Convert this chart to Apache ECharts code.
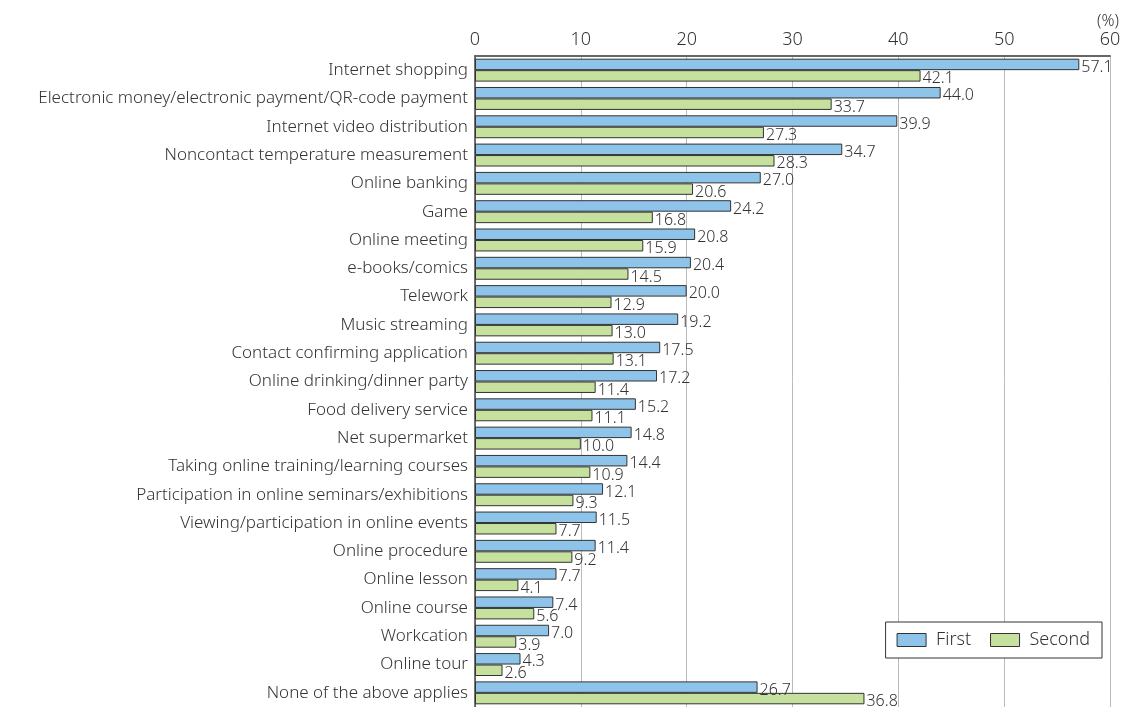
<!DOCTYPE html>
<html>
<head>
<meta charset="utf-8">
<script src="https://cdn.jsdelivr.net/npm/echarts@6/dist/echarts.min.js"></script>
<style>
  html, body { margin: 0; padding: 0; background: #fff; }
  #chart { width: 1128px; height: 707px; }
</style>
</head>
<body>
<div id="chart"></div>
<script>
// Usage of digital services (%)
const categories = [
  'Internet shopping',
  'Electronic money/electronic payment/QR-code payment',
  'Internet video distribution',
  'Noncontact temperature measurement',
  'Online banking',
  'Game',
  'Online meeting',
  'e-books/comics',
  'Telework',
  'Music streaming',
  'Contact confirming application',
  'Online drinking/dinner party',
  'Food delivery service',
  'Net supermarket',
  'Taking online training/learning courses',
  'Participation in online seminars/exhibitions',
  'Viewing/participation in online events',
  'Online procedure',
  'Online lesson',
  'Online course',
  'Workcation',
  'Online tour',
  'None of the above applies'
];
const firstValues = [57.1, 44.0, 39.9, 34.7, 27.0, 24.2, 20.8, 20.4, 20.0, 19.2, 17.5, 17.2, 15.2, 14.8, 14.4, 12.1, 11.5, 11.4, 7.7, 7.4, 7.0, 4.3, 26.7];
const secondValues = [42.1, 33.7, 27.3, 28.3, 20.6, 16.8, 15.9, 14.5, 12.9, 13.0, 13.1, 11.4, 11.1, 10.0, 10.9, 9.3, 7.7, 9.2, 4.1, 5.6, 3.9, 2.6, 36.8];
const seriesNames = ['First', 'Second'];
const axisTicks = { min: 0, max: 60, interval: 10 };
const unitLabel = '(%)';

const FONT = '"Noto Sans", sans-serif';
const WEIGHT = 300;
const TEXT = '#333';

const chart = echarts.init(document.getElementById('chart'), null, { renderer: 'canvas' });

function barSeries(name, data, color) {
  return {
    name: name,
    type: 'bar',
    data: data,
    barGap: '0%',
    barCategoryGap: '19%',
    itemStyle: { color: color, borderColor: '#333', borderWidth: 1 },
    label: {
      show: true,
      position: 'right',
      distance: 2,
      offset: [0, 3],
      color: TEXT,
      fontFamily: FONT,
      fontWeight: WEIGHT,
      fontSize: 16,
      formatter: p => p.value.toFixed(1)
    },
    z: 3
  };
}

chart.setOption({
  animation: false,
  textStyle: { fontFamily: FONT, fontWeight: WEIGHT },
  grid: { left: 475, right: 18, top: 56, height: 653, containLabel: false },
  legend: {
    data: seriesNames,
    right: 26,
    top: 622,
    orient: 'horizontal',
    icon: 'rect',
    borderColor: '#333',
    borderWidth: 1,
    borderRadius: 0,
    padding: [9, 12, 9, 11],
    itemGap: 19,
    itemWidth: 29,
    itemHeight: 13,
    backgroundColor: '#fff',
    textStyle: { color: TEXT, fontSize: 18, fontFamily: FONT, fontWeight: WEIGHT, padding: [0, 0, 0, 5] },
    itemStyle: { borderColor: '#333', borderWidth: 1 }
  },
  graphic: [{
    type: 'text',
    right: 9,
    top: 13,
    style: { text: unitLabel, fill: TEXT, font: WEIGHT + ' 16px ' + FONT }
  }],
  xAxis: {
    type: 'value',
    position: 'top',
    min: axisTicks.min,
    max: axisTicks.max,
    interval: axisTicks.interval,
    axisLine: { show: true, lineStyle: { color: '#666', width: 2 } },
    axisTick: { show: false },
    axisLabel: { color: TEXT, fontSize: 18, fontFamily: FONT, fontWeight: WEIGHT, margin: 7 },
    splitLine: { show: true, lineStyle: { color: '#bbb', width: 1 } }
  },
  yAxis: {
    type: 'category',
    data: categories,
    inverse: true,
    axisLine: { show: true, lineStyle: { color: '#444', width: 1.5 } },
    axisTick: { show: false },
    axisLabel: { color: TEXT, fontSize: 17, fontFamily: FONT, fontWeight: WEIGHT, margin: 7 }
  },
  series: [
    barSeries(seriesNames[0], firstValues, '#8ec4ea'),
    barSeries(seriesNames[1], secondValues, '#c6e09e')
  ]
});
</script>
</body>
</html>
